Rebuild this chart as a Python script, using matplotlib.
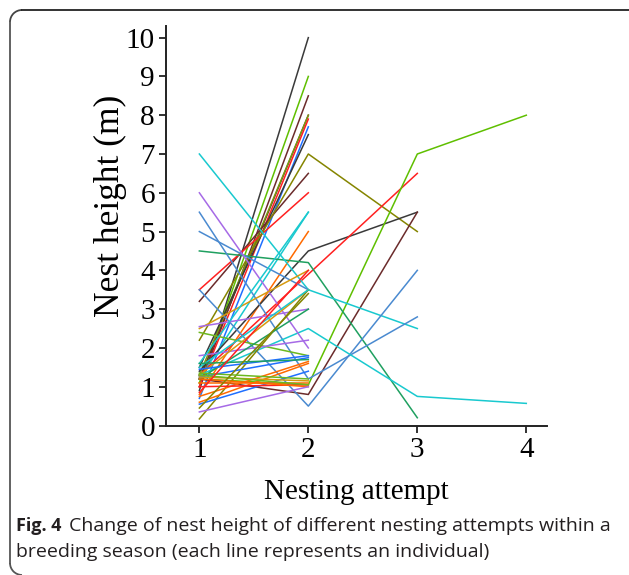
"""
Nest height across nesting attempts (Fig. 4 recreation)
"""
import numpy as np
from matplotlib import pyplot as plt
from matplotlib.patches import Arc

NA = np.nan

# Nest height (m) of each individual at attempts 1-4 (NaN = no attempt)
attempt_1 = [0.9, 1.1, 1.0, 1.2, 1.3, 1.0, 0.7, 1.5, 3.2, 3.5,
             2.2, 1.2, 0.8, 1.4, 1.3, 1.2, 1.2, 4.5, 7.0, 3.5,
             5.5, 5.0, 1.3, 6.0, 2.5, 2.55, 2.4, 1.8, 1.3, 0.17,
             1.6, 1.2, 1.5, 1.45, 1.25, 1.6, 0.6, 0.75, 0.55, 1.35,
             1.1, 1.0, 1.2, 0.35, 1.25, 1.3, 0.45, 0.85]
attempt_2 = [10.0, 9.0, 8.5, 8.0, 8.0, 7.9, 7.7, 7.5, 6.5, 6.0,
             7.0, 5.5, 5.0, 4.5, 3.9, 1.05, 0.8, 4.2, 3.5, 0.5,
             1.2, 3.5, 2.5, 2.0, 4.0, 3.0, 1.8, 2.2, 3.5, 3.5,
             5.5, 3.0, 3.5, 1.8, 1.75, 1.7, 1.6, 1.65, 1.4, 1.2,
             1.1, 1.05, 1.0, 1.0, 1.15, 1.05, 3.4, 4.0]
attempt_3 = [NA, NA, NA, NA, NA, NA, NA, NA, NA, NA,
             5.0, NA, NA, 5.5, 6.5, 7.0, 5.5, 0.2, 2.5, 4.0,
             2.8, NA, 0.75, NA, NA, NA, NA, NA, NA, NA,
             NA, NA, NA, NA, NA, NA, NA, NA, NA, NA,
             NA, NA, NA, NA, NA, NA, NA, NA]
attempt_4 = [NA] * 15 + [8.0] + [NA] * 6 + [0.57] + [NA] * 25

attempts = [1, 2, 3, 4]
y_ticks = list(range(0, 11))

line_colors = ['#3a3a3a', '#5fbf00', '#6b2b2b', '#6b2b2b', '#7a9a10', '#ff2020', '#1f6fff', '#3a3a3a', '#6b2b2b', '#ff2020',
               '#858500', '#19c9cf', '#ff6a00', '#3a3a3a', '#ff2020', '#5fbf00', '#6b2b2b', '#1fa060', '#19c9cf', '#4a8ad0',
               '#4a8ad0', '#4a8ad0', '#19c9cf', '#a66ae6', '#d69a10', '#a66ae6', '#6cb820', '#a66ae6', '#d69a10', '#858500',
               '#19c9cf', '#1fa060', '#19c9cf', '#1f6fff', '#1f6fff', '#1fa060', '#ff6a00', '#ff6a00', '#1f6fff', '#6cb820',
               '#ff6a00', '#ff2020', '#ff6a00', '#a66ae6', '#d69a10', '#6cb820', '#858500', '#ff2020']

W, H = 629, 575
fig = plt.figure(figsize=(W / 100, H / 100), dpi=100)

# Frame around figure + caption (pixel coordinates, y pointing down)
frame = fig.add_axes([0, 0, 1, 1])
frame.set_xlim(0, W)
frame.set_ylim(H, 0)
frame.axis('off')
r = 12
fx, fy = 10, 10
frame.plot([fx + r, W], [fy, fy], color='#222222', lw=1.3)
frame.plot([fx, fx], [fy + r, H - r], color='#555555', lw=1.3)
# y axis is inverted, so angles run clockwise on screen
frame.add_patch(Arc((fx + r, fy + r), 2 * r, 2 * r, theta1=180, theta2=270, color='#444444', lw=1.3))
frame.add_patch(Arc((fx + r, H - r), 2 * r, 2 * r, theta1=90, theta2=180, color='#555555', lw=1.3))

frame.text(16, 531, 'Fig. 4', fontfamily='Open Sans', fontweight='bold', fontsize=13,
           color='#231f20', va='baseline')
frame.text(69, 531, 'Change of nest height of different nesting attempts within a',
           fontfamily='Open Sans', fontsize=14, color='#231f20', va='baseline')
frame.text(16, 557, 'breeding season (each line represents an individual)',
           fontfamily='Open Sans', fontsize=14, color='#231f20', va='baseline')

# Main plot
ax = fig.add_axes([166 / W, 1 - 425.5 / H, (547 - 166) / W, (425.5 - 26) / H])
for i in range(len(attempt_1)):
    ys = [attempt_1[i], attempt_2[i], attempt_3[i], attempt_4[i]]
    ax.plot(attempts, ys, color=line_colors[i], lw=1.1)

ax.set_xlim(0.694, 4.19)
ax.set_ylim(0, 10.3)
ax.set_xticks(attempts)
ax.set_yticks(y_ticks)
ax.spines['top'].set_visible(False)
ax.spines['right'].set_visible(False)
for s in ['left', 'bottom']:
    ax.spines[s].set_linewidth(1.4)
    ax.spines[s].set_color('#222222')
ax.tick_params(direction='out', length=5, width=1.3, color='#222222',
               labelsize=21, pad=3)
for lab in ax.get_xticklabels() + ax.get_yticklabels():
    lab.set_fontfamily('Liberation Serif')
ax.set_xlabel('Nesting attempt', fontfamily='Liberation Serif', fontsize=21, labelpad=12)
ax.set_ylabel('Nest height (m)', fontfamily='Liberation Serif', fontsize=25.5)
ax.yaxis.set_label_coords(-0.147, 0.549)
ax.yaxis.label.set_va('center')

fig.savefig('out.png', dpi=100)
